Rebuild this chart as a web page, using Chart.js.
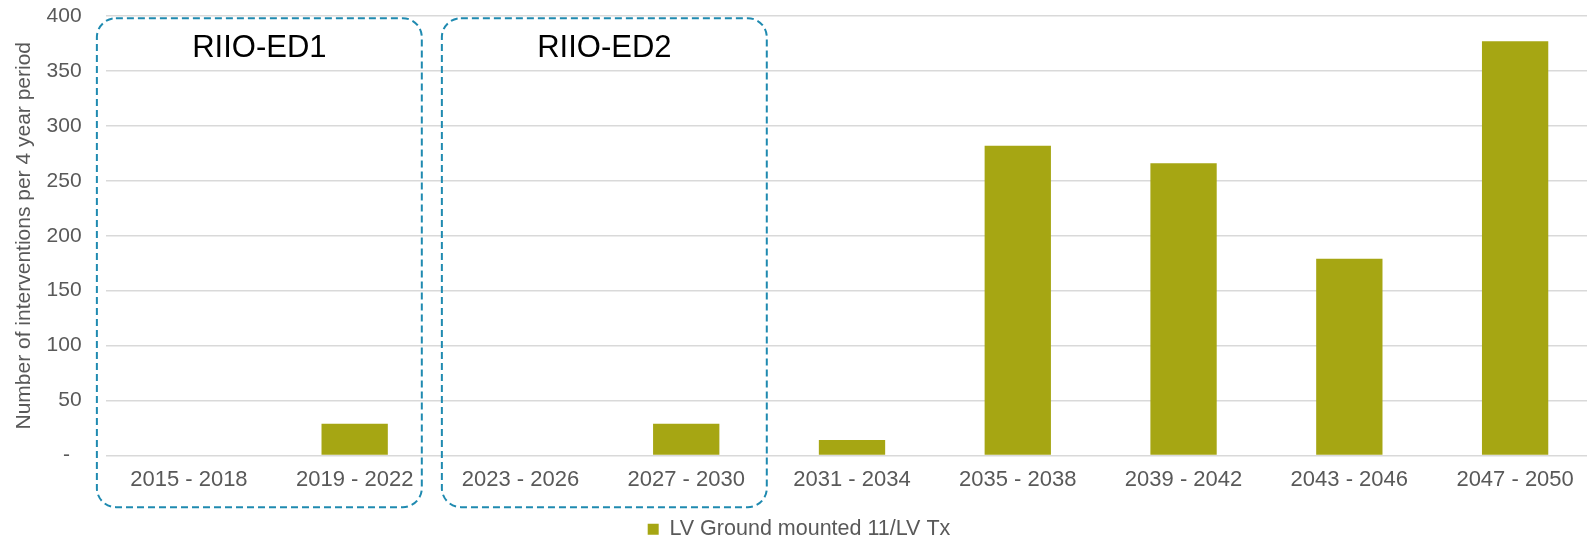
<!DOCTYPE html>
<html>
<head>
<meta charset="utf-8">
<style>
  html, body { margin: 0; padding: 0; background: #ffffff; overflow: hidden; }
  #wrap { width: 1600px; height: 550px; }
</style>
<script src="https://cdn.jsdelivr.net/npm/chart.js@4/dist/chart.umd.min.js"></script>
</head>
<body>
<div id="wrap"><canvas id="chart" width="1600" height="550"></canvas></div>
<script>
// Four-year periods and interventions per period
const periods = [
  '2015 - 2018', '2019 - 2022', '2023 - 2026', '2027 - 2030', '2031 - 2034',
  '2035 - 2038', '2039 - 2042', '2043 - 2046', '2047 - 2050'
];
const interventions = [0, 29, 0, 29, 14, 282, 266, 179, 377];
const seriesName = 'LV Ground mounted 11/LV Tx';
const yTicks = [0, 50, 100, 150, 200, 250, 300, 350, 400];

// Price-control periods, outlined on the chart (x in category index units, y in axis units)
const periodNames = ['RIIO-ED1', 'RIIO-ED2'];
const periodStart = [-0.555, 1.526];
const periodEnd = [1.405, 3.486];
const periodTop = 398;
const periodBottom = -47;

const FONT = '"Liberation Sans", Arial, sans-serif';
const GREY = '#595959';

function roundRectPath(ctx, x, y, w, h, r) {
  ctx.beginPath();
  ctx.moveTo(x + r, y);
  ctx.lineTo(x + w - r, y);
  ctx.arcTo(x + w, y, x + w, y + r, r);
  ctx.lineTo(x + w, y + h - r);
  ctx.arcTo(x + w, y + h, x + w - r, y + h, r);
  ctx.lineTo(x + r, y + h);
  ctx.arcTo(x, y + h, x, y + h - r, r);
  ctx.lineTo(x, y + r);
  ctx.arcTo(x, y, x + r, y, r);
  ctx.closePath();
}

const periodBoxes = {
  id: 'periodBoxes',
  afterDraw(chart) {
    const { ctx, scales: { x, y } } = chart;
    ctx.save();
    periodNames.forEach((name, i) => {
      const x0 = x.getPixelForValue(periodStart[i]);
      const x1 = x.getPixelForValue(periodEnd[i]);
      const y0 = y.getPixelForValue(periodTop);
      const y1 = y.getPixelForValue(periodBottom);
      ctx.setLineDash([7, 4]);
      ctx.lineWidth = 2;
      ctx.strokeStyle = '#1f8ab0';
      roundRectPath(ctx, x0, y0, x1 - x0, y1 - y0, 19);
      ctx.stroke();
      ctx.setLineDash([]);
      ctx.fillStyle = '#000000';
      ctx.font = '31px ' + FONT;
      ctx.textAlign = 'center';
      ctx.textBaseline = 'middle';
      ctx.fillText(name, (x0 + x1) / 2, y0 + 30);
    });
    ctx.restore();
  }
};

new Chart(document.getElementById('chart'), {
  type: 'bar',
  data: {
    labels: periods,
    datasets: [{
      label: seriesName,
      data: interventions,
      backgroundColor: '#a6a613',
      borderWidth: 0,
      barPercentage: 0.4,
      categoryPercentage: 1.0
    }]
  },
  options: {
    responsive: false,
    animation: false,
    devicePixelRatio: 1,
    layout: { padding: { top: 16, right: 2, bottom: 0, left: 0 } },
    plugins: {
      legend: {
        position: 'bottom',
        labels: {
          boxWidth: 11,
          boxHeight: 11,
          padding: 14,
          color: GREY,
          font: { family: FONT, size: 21.5 }
        }
      },
      tooltip: { enabled: false }
    },
    scales: {
      x: {
        grid: { display: false, drawTicks: false },
        border: { display: false },
        ticks: {
          color: GREY,
          padding: 11.3,
          maxRotation: 0,
          autoSkip: false,
          font: { family: FONT, size: 22 }
        }
      },
      y: {
        min: 0,
        max: 400,
        afterBuildTicks(scale) {
          scale.ticks = yTicks.map(v => ({ value: v }));
        },
        afterFit(scale) { scale.width = 106; },
        grid: { color: '#d9d9d9', lineWidth: 1.5, drawTicks: false },
        border: { display: false },
        ticks: {
          color: GREY,
          padding: 1,
          font: { family: FONT, size: 21 },
          // trailing spaces keep the labels clear of the plot edge
          callback: v => (v === 0 ? '-      ' : String(v) + '    ')
        },
        title: {
          display: true,
          text: 'Number of interventions per 4 year period',
          color: GREY,
          padding: { top: 12, bottom: 0 },
          font: { family: FONT, size: 21 }
        }
      }
    }
  },
  plugins: [periodBoxes]
});
</script>
</body>
</html>
